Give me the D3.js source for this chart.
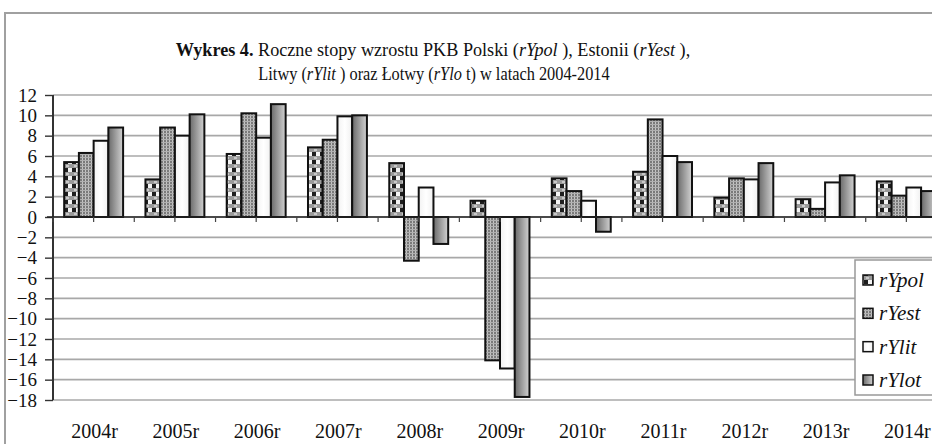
<!DOCTYPE html>
<html>
<head>
<meta charset="UTF-8">
<title>Wykres 4</title>
<script src="https://d3js.org/d3.v7.min.js"></script>
<style>
html, body { margin: 0; padding: 0; background: white; }
.grid line { stroke: #a8a8a8; stroke-width: 1.6px; }
.y-axis line { stroke: #333; stroke-width: 1.4px; }
.y-axis path { display: none; }
.bar { stroke: #111; stroke-width: 2px; }
</style>
</head>
<body>
<div id="chart"></div>
<script>

// ---- data ----
var years = ["2004r", "2005r", "2006r", "2007r", "2008r", "2009r", "2010r", "2011r", "2012r", "2013r", "2014r"];
var seriesNames = ["rYpol", "rYest", "rYlit", "rYlot"];
var rYpol = [5.4, 3.7, 6.2, 6.85, 5.3, 1.6, 3.8, 4.45, 1.9, 1.75, 3.5];
var rYest = [6.3, 8.8, 10.2, 7.6, -4.3, -14.1, 2.55, 9.6, 3.8, 0.8, 2.1];
var rYlit = [7.5, 8.0, 7.8, 9.9, 2.9, -14.9, 1.6, 6.0, 3.7, 3.4, 2.9];
var rYlot = [8.8, 10.1, 11.1, 10.0, -2.65, -17.7, -1.45, 5.4, 5.3, 4.1, 2.55];
var yTicks = [-18, -16, -14, -12, -10, -8, -6, -4, -2, 0, 2, 4, 6, 8, 10, 12];

var seriesValues = { rYpol: rYpol, rYest: rYest, rYlit: rYlit, rYlot: rYlot };

// ---- size ----
var W = 932, H = 444;
var plot = { left: 53, right: 947, top: 95, bottom: 400 };
var FONT = "Liberation Serif";

var svg = d3.select("#chart").append("svg")
  .attr("width", W)
  .attr("height", H)
  .attr("font-family", FONT);

// ---- fills ----
var defs = svg.append("defs");

var pPol = defs.append("pattern")
  .attr("id", "fillPol")
  .attr("patternUnits", "userSpaceOnUse")
  .attr("width", 8).attr("height", 8);
pPol.append("rect").attr("width", 8).attr("height", 8).attr("fill", "#9a9a9a");
pPol.append("rect").attr("x", 0).attr("y", 0).attr("width", 4).attr("height", 4).attr("fill", "#1e1e1e");
pPol.append("rect").attr("x", 4).attr("y", 0).attr("width", 4).attr("height", 4).attr("fill", "#f4f4f4");
pPol.append("rect").attr("x", 2).attr("y", 5).attr("width", 3).attr("height", 2).attr("fill", "#c8c8c8");

var pEst = defs.append("pattern")
  .attr("id", "fillEst")
  .attr("patternUnits", "userSpaceOnUse")
  .attr("width", 3).attr("height", 3);
pEst.append("rect").attr("width", 3).attr("height", 3).attr("fill", "#7a7a7a");
pEst.append("rect").attr("x", 1).attr("width", 1).attr("height", 3).attr("fill", "#c4c4c4");
pEst.append("rect").attr("y", 1).attr("width", 3).attr("height", 1).attr("fill", "#b0b0b0");

var gLit = defs.append("linearGradient").attr("id", "fillLit");
gLit.append("stop").attr("offset", 0).attr("stop-color", "#f2f2f2");
gLit.append("stop").attr("offset", 0.5).attr("stop-color", "#ffffff");
gLit.append("stop").attr("offset", 1).attr("stop-color", "#f0f0f0");

var gLot = defs.append("linearGradient").attr("id", "fillLot");
gLot.append("stop").attr("offset", 0).attr("stop-color", "#6a6a6a");
gLot.append("stop").attr("offset", 1).attr("stop-color", "#d2d2d2");

var fills = { rYpol: "url(#fillPol)", rYest: "url(#fillEst)", rYlit: "url(#fillLit)", rYlot: "url(#fillLot)" };

// ---- outer frame ----
svg.append("path")
  .attr("d", "M5," + H + " V13 H" + W)
  .attr("fill", "none")
  .attr("stroke", "#a0a0a0")
  .attr("stroke-width", 2);

// ---- title ----
var title = svg.append("g").attr("class", "title")
  .attr("text-anchor", "middle")
  .attr("font-size", 19)
  .attr("fill", "#111");

var t1 = title.append("text").attr("x", 433).attr("y", 56);
t1.append("tspan").attr("font-weight", "bold").text("Wykres 4.");
t1.append("tspan").text(" Roczne stopy wzrostu PKB  Polski (");
t1.append("tspan").attr("font-style", "italic").text("rYpol ");
t1.append("tspan").text("), Estonii (");
t1.append("tspan").attr("font-style", "italic").text("rYest ");
t1.append("tspan").text("),");

var t2 = title.append("text").attr("x", 434).attr("y", 80);
t2.append("tspan").text("Litwy (");
t2.append("tspan").attr("font-style", "italic").text("rYlit ");
t2.append("tspan").text(") oraz Łotwy (");
t2.append("tspan").attr("font-style", "italic").text("rYlo ");
t2.append("tspan").text("t) w latach 2004-2014");

// the printed title is a narrow face, squeeze it to the same width
function squeeze(t, cx, target) {
  var w = t.node().getBBox().width;
  var k = target / w;
  t.attr("transform", "translate(" + cx + ",0) scale(" + k + ",1) translate(" + (-cx) + ",0)");
}
squeeze(t1, 433, 515);
squeeze(t2, 434, 352);

// ---- scales ----
var x = d3.scaleBand()
  .domain(years)
  .range([plot.left, plot.right])
  .paddingInner(0.275)
  .paddingOuter(0.1375);

var xs = d3.scaleBand()
  .domain(seriesNames)
  .range([0, x.bandwidth()]);

var y = d3.scaleLinear()
  .domain([-18, 12])
  .range([plot.bottom, plot.top]);

// ---- grid ----
svg.append("g").attr("class", "grid")
  .selectAll("line")
  .data(yTicks)
  .join("line")
  .attr("x1", plot.left)
  .attr("x2", plot.right)
  .attr("y1", d => y(d))
  .attr("y2", d => y(d));

// ---- y axis ----
var yAxis = svg.append("g")
  .attr("class", "y-axis")
  .attr("transform", "translate(" + plot.left + ",0)")
  .call(d3.axisLeft(y).tickValues(yTicks).tickSize(8).tickPadding(8).tickFormat(d3.format("d")));

yAxis.attr("font-family", FONT).attr("font-size", 19);
yAxis.selectAll("text").attr("fill", "#111");

svg.append("line")
  .attr("x1", plot.left).attr("x2", plot.left)
  .attr("y1", y(12)).attr("y2", y(-18))
  .attr("stroke", "#333").attr("stroke-width", 2);

// ---- bars ----
var rows = [];
years.forEach(function (yr, i) {
  seriesNames.forEach(function (s) {
    rows.push({ year: yr, series: s, value: seriesValues[s][i] });
  });
});

svg.append("g").selectAll("rect")
  .data(rows)
  .join("rect")
  .attr("class", "bar")
  .attr("x", d => x(d.year) + xs(d.series))
  .attr("width", xs.bandwidth())
  .attr("y", d => y(Math.max(0, d.value)))
  .attr("height", d => Math.abs(y(d.value) - y(0)))
  .attr("fill", d => fills[d.series]);

// ---- zero line and category ticks ----
svg.append("line")
  .attr("x1", plot.left - 6).attr("x2", plot.right)
  .attr("y1", y(0)).attr("y2", y(0))
  .attr("stroke", "#222").attr("stroke-width", 1.6);

var tickXs = [];
years.forEach(function (yr) {
  tickXs.push(x(yr) - x.step() * x.paddingInner() / 2);
  tickXs.push(x(yr) + x.bandwidth() / 2);
});

svg.append("g").selectAll("line")
  .data(tickXs)
  .join("line")
  .attr("x1", d => d).attr("x2", d => d)
  .attr("y1", y(0)).attr("y2", y(0) + 5)
  .attr("stroke", "#444").attr("stroke-width", 1.2);

// ---- x labels ----
svg.append("g").selectAll("text")
  .data(years)
  .join("text")
  .attr("font-size", 20)
  .attr("fill", "#111")
  .attr("text-anchor", "middle")
  .attr("x", d => x(d) + x.bandwidth() / 2 + 1)
  .attr("y", 438)
  .text(d => d);

// ---- legend ----
var legend = svg.append("g").attr("class", "legend");
legend.append("rect")
  .attr("x", 855).attr("y", 260)
  .attr("width", 100).attr("height", 135)
  .attr("fill", "white")
  .attr("stroke", "#999").attr("stroke-width", 1.5);

var legendY = d3.scalePoint().domain(seriesNames).range([287, 387]);

var items = legend.selectAll("g.item")
  .data(seriesNames)
  .join("g")
  .attr("class", "item");

items.append("rect")
  .attr("x", 863)
  .attr("y", d => legendY(d) - 12)
  .attr("width", 10).attr("height", 10)
  .attr("fill", d => fills[d])
  .attr("stroke", "#111").attr("stroke-width", 1.5);

items.append("text")
  .attr("font-size", 21)
  .attr("font-style", "italic")
  .attr("fill", "#111")
  .attr("x", 879)
  .attr("y", d => legendY(d))
  .text(d => d);

</script>
</body>
</html>
